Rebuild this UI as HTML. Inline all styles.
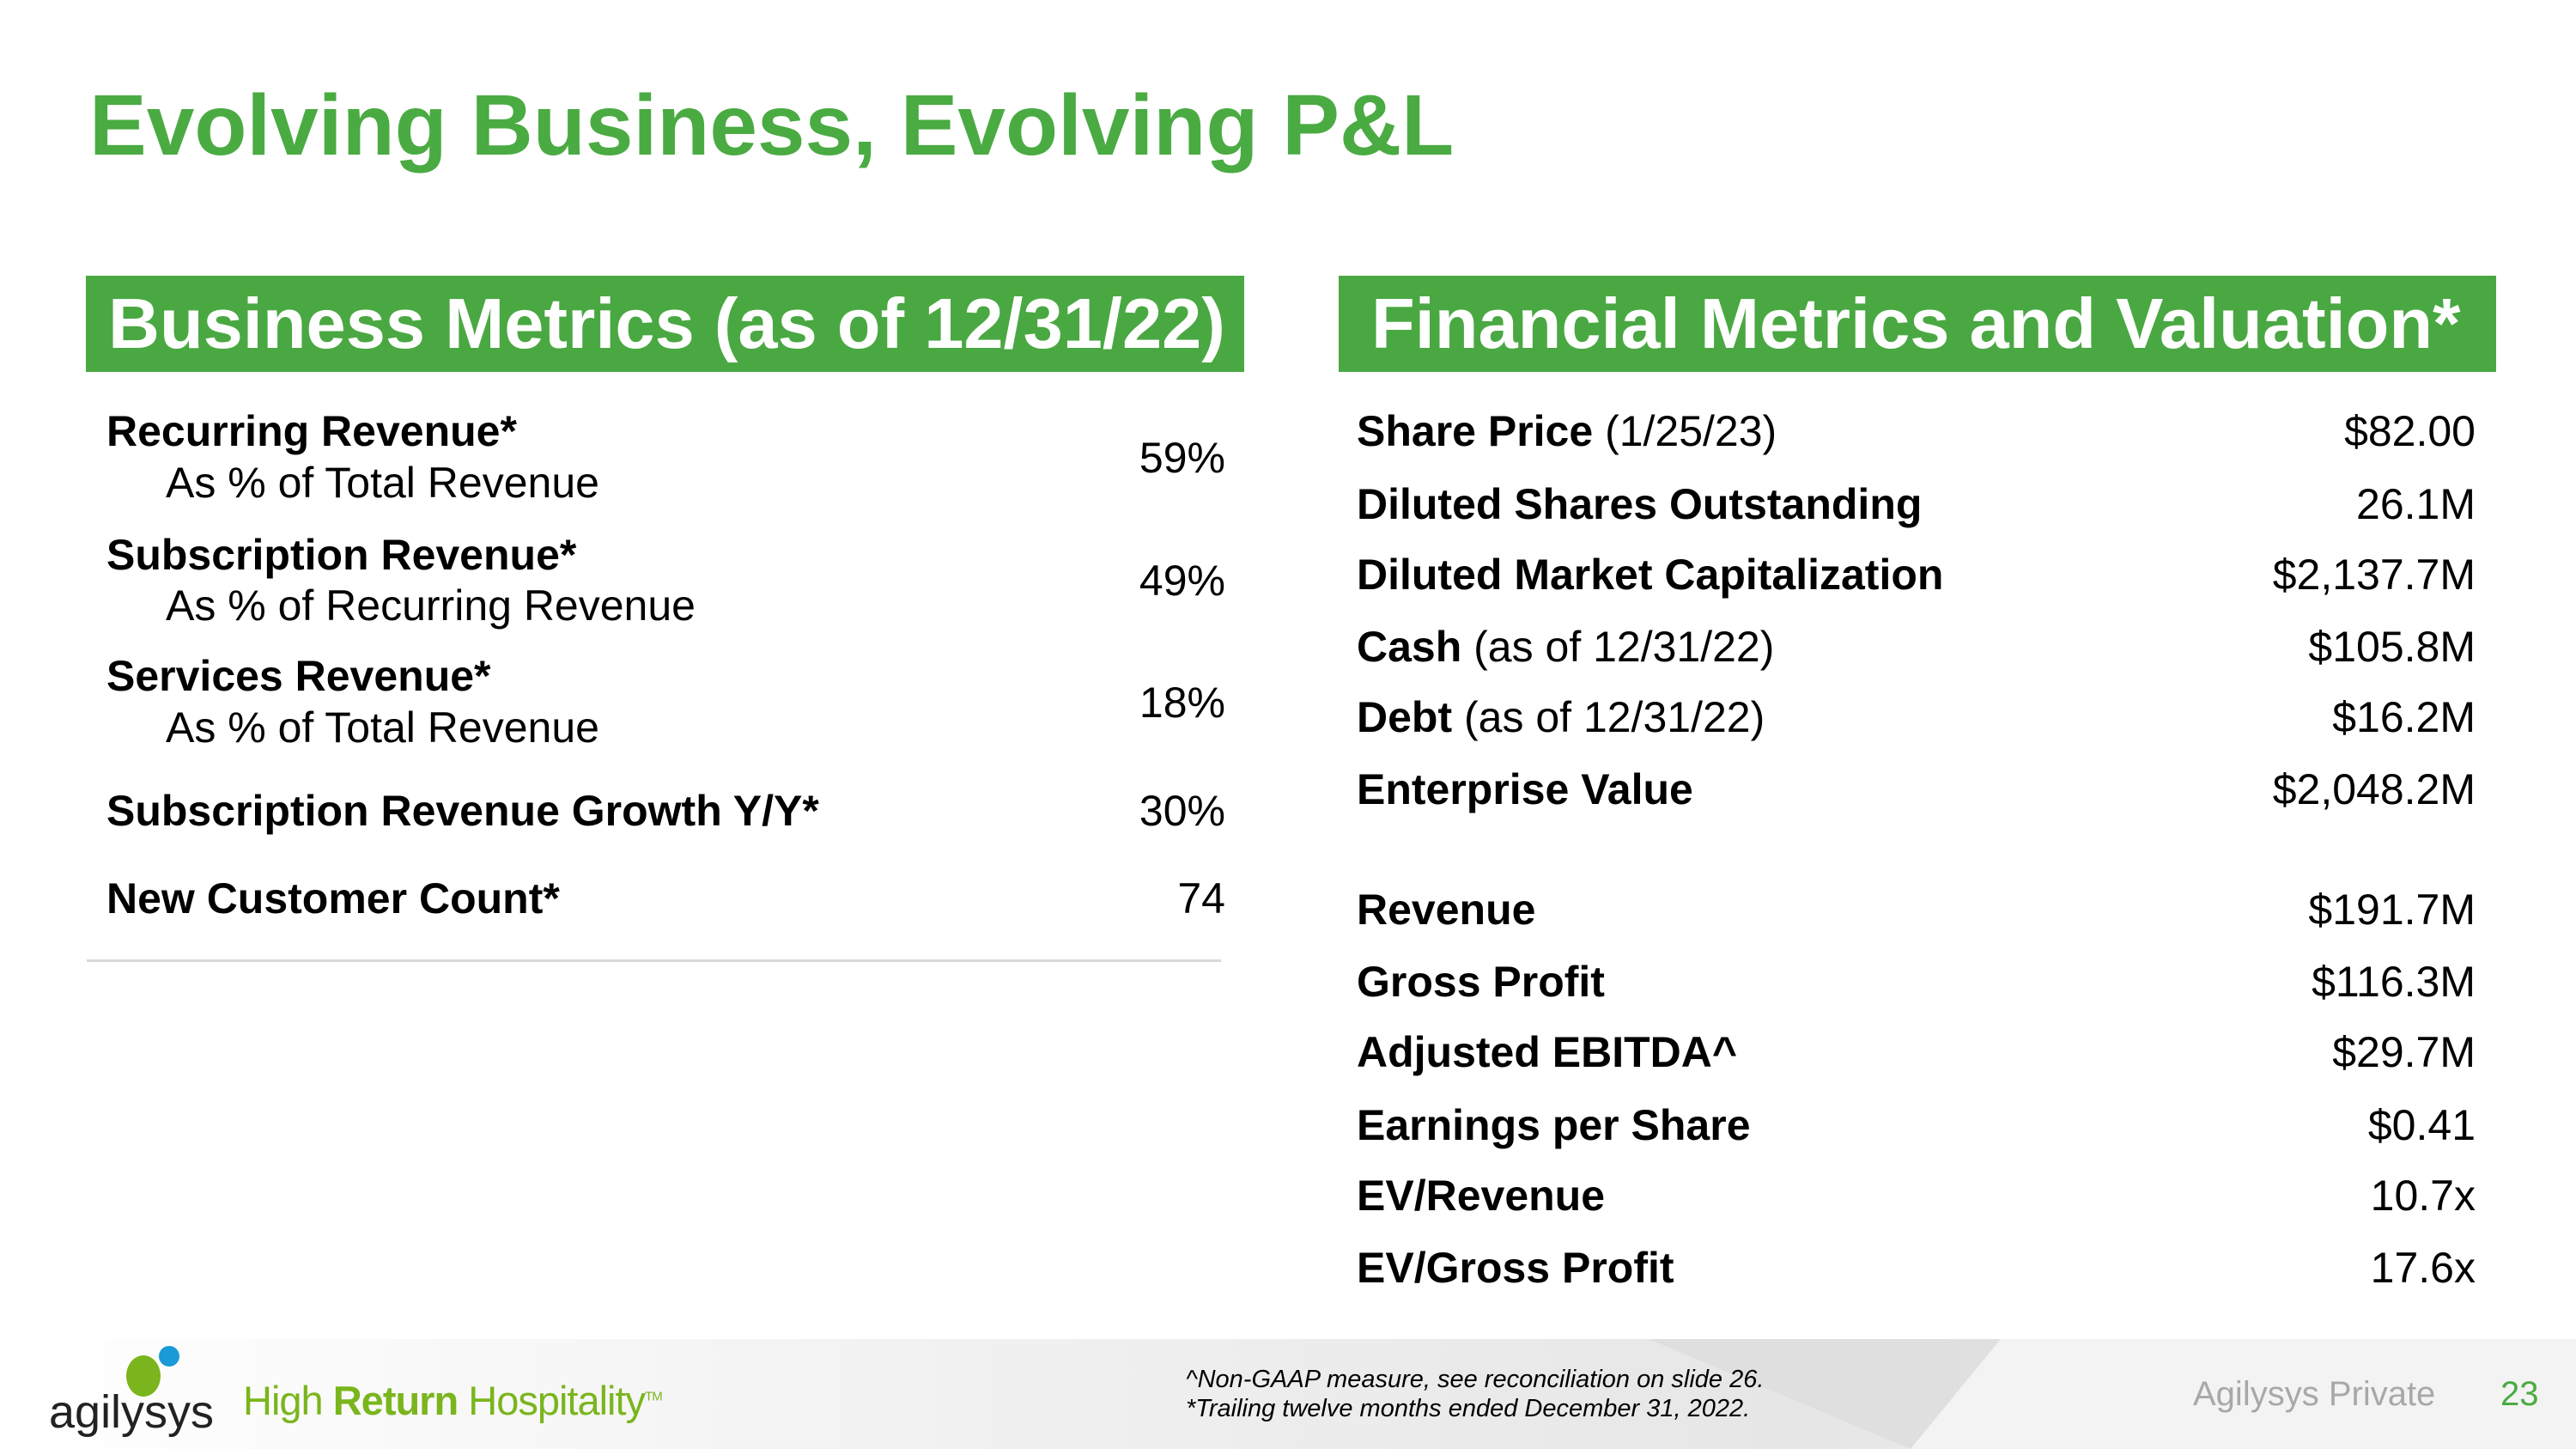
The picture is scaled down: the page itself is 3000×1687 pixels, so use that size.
<!DOCTYPE html>
<html><head><meta charset="utf-8"><style>
body{margin:0;width:3000px;height:1687px;position:relative;overflow:hidden;background:#fff;font-family:"Liberation Sans",sans-serif;}
.t{position:absolute;line-height:1;white-space:nowrap;color:#000;}
.b{font-weight:bold;}
.m{font-size:50px;}
.hdr{position:absolute;background:#4aa842;}
</style></head><body>
<div class="t b" style="left:104px;top:96px;font-size:100px;color:#4aab42;">Evolving Business, Evolving P&amp;L</div>

<div class="hdr" style="left:100px;top:321px;width:1349px;height:112px;"></div>
<div class="t b" style="left:126px;top:335px;font-size:83px;color:#fff;">Business Metrics (as of 12/31/22)</div>
<div class="hdr" style="left:1559px;top:321px;width:1348px;height:112px;"></div>
<div class="t b" style="left:1597px;top:335px;font-size:83px;color:#fff;">Financial Metrics and Valuation*</div>

<div>
<div class="t b m" style="left:124px;top:477px;">Recurring Revenue*</div>
<div class="t m" style="left:193px;top:537px;">As % of Total Revenue</div>
<div class="t m" style="right:1573px;top:508px;">59%</div>
<div class="t b m" style="left:124px;top:621px;">Subscription Revenue*</div>
<div class="t m" style="left:193px;top:680px;">As % of Recurring Revenue</div>
<div class="t m" style="right:1573px;top:651px;">49%</div>
<div class="t b m" style="left:124px;top:762px;">Services Revenue*</div>
<div class="t m" style="left:193px;top:822px;">As % of Total Revenue</div>
<div class="t m" style="right:1573px;top:793px;">18%</div>
<div class="t b m" style="left:124px;top:919px;">Subscription Revenue Growth Y/Y*</div>
<div class="t m" style="right:1573px;top:919px;">30%</div>
<div class="t b m" style="left:124px;top:1021px;">New Customer Count*</div>
<div class="t m" style="right:1573px;top:1021px;">74</div>
<div style="position:absolute;left:101px;top:1117px;width:1321px;height:3px;background:#d8d8d8;"></div>
</div>

<div>
<div class="t m" style="left:1580px;top:477px;"><b>Share Price</b> (1/25/23)</div>
<div class="t m" style="right:117px;top:477px;">$82.00</div>
<div class="t b m" style="left:1580px;top:562px;">Diluted Shares Outstanding</div>
<div class="t m" style="right:117px;top:562px;">26.1M</div>
<div class="t b m" style="left:1580px;top:644px;">Diluted Market Capitalization</div>
<div class="t m" style="right:117px;top:644px;">$2,137.7M</div>
<div class="t m" style="left:1580px;top:728px;"><b>Cash</b> (as of 12/31/22)</div>
<div class="t m" style="right:117px;top:728px;">$105.8M</div>
<div class="t m" style="left:1580px;top:810px;"><b>Debt</b> (as of 12/31/22)</div>
<div class="t m" style="right:117px;top:810px;">$16.2M</div>
<div class="t b m" style="left:1580px;top:894px;">Enterprise Value</div>
<div class="t m" style="right:117px;top:894px;">$2,048.2M</div>
<div class="t b m" style="left:1580px;top:1034px;">Revenue</div>
<div class="t m" style="right:117px;top:1034px;">$191.7M</div>
<div class="t b m" style="left:1580px;top:1118px;">Gross Profit</div>
<div class="t m" style="right:117px;top:1118px;">$116.3M</div>
<div class="t b m" style="left:1580px;top:1200px;">Adjusted EBITDA^</div>
<div class="t m" style="right:117px;top:1200px;">$29.7M</div>
<div class="t b m" style="left:1580px;top:1285px;">Earnings per Share</div>
<div class="t m" style="right:117px;top:1285px;">$0.41</div>
<div class="t b m" style="left:1580px;top:1367px;">EV/Revenue</div>
<div class="t m" style="right:117px;top:1367px;">10.7x</div>
<div class="t b m" style="left:1580px;top:1451px;">EV/Gross Profit</div>
<div class="t m" style="right:117px;top:1451px;">17.6x</div>
</div>

<div style="position:absolute;left:0;top:1559px;width:3000px;height:128px;background:linear-gradient(90deg,#fff 0%,#f0f0f0 40%,#e6e6e6 70%,#f2f2f2 100%);"></div>
<svg style="position:absolute;left:0;top:1559px" width="3000" height="128">
<polygon points="1920,0 2330,0 2225,128" fill="#dcdcdc" opacity="0.7"/>
<polygon points="2330,0 3000,0 3000,128 2225,128" fill="#f3f3f3"/>
</svg>
<svg style="position:absolute;left:140px;top:1560px" width="80" height="80">
<ellipse cx="27" cy="42" rx="20" ry="24" fill="#7ab51d"/>
<circle cx="57" cy="19" r="12" fill="#1a9ad6"/>
</svg>
<div class="t" style="left:57px;top:1617px;font-size:54px;color:#222;">agilysys</div>
<div class="t" style="left:283px;top:1607px;font-size:47px;color:#7ab51d;letter-spacing:-1px;">High <b>Return</b> Hospitality<sup style="font-size:15px">TM</sup></div>
<div class="t" style="left:1381px;top:1592px;font-size:29px;font-style:italic;">^Non-GAAP measure, see reconciliation on slide 26.</div>
<div class="t" style="left:1381px;top:1626px;font-size:29px;font-style:italic;">*Trailing twelve months ended December 31, 2022.</div>
<div class="t" style="left:2554px;top:1603px;font-size:40px;color:#a8a8a8;">Agilysys Private</div>
<div class="t" style="left:2912px;top:1603px;font-size:40px;color:#4aab42;">23</div>
</body></html>
